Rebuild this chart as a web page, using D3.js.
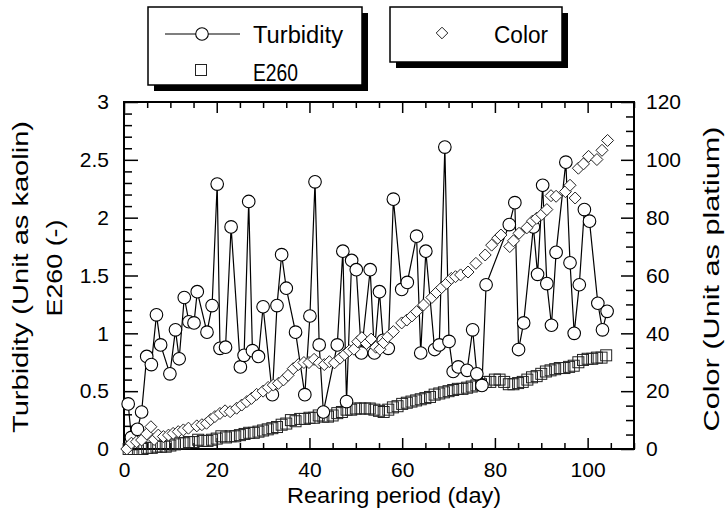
<!DOCTYPE html>
<html><head><meta charset="utf-8">
<script src="https://cdn.jsdelivr.net/npm/d3@7"></script>
<style>
html,body{margin:0;padding:0;background:#fff;}
svg{display:block;font-family:"Liberation Sans",Arial,Helvetica,sans-serif;}
</style></head>
<body>
<svg id="c" width="727" height="514"></svg>
<script>
// ---- data ----
const turbDays = [0.9,1.6,2.9,3.8,4.9,5.9,7.0,7.9,9.9,11.1,11.9,13.0,14.0,15.1,15.8,17.9,19.0,20.1,20.7,21.9,23.1,25.1,25.9,26.9,27.7,29.0,30.0,32.0,33.0,34.0,35.0,37.0,39.0,40.1,41.2,42.1,43.0,46.0,47.2,48.0,49.1,50.1,51.2,53.1,54.0,55.1,55.9,57.0,58.1,59.9,61.1,63.1,64.0,65.1,67.0,68.0,69.2,70.1,71.0,72.1,74.0,75.2,76.1,77.2,78.1,83.1,84.3,85.1,86.2,88.3,89.2,90.3,91.2,92.2,93.2,95.3,96.2,97.1,98.2,99.3,100.4,102.2,103.2,104.2];
const turbVals = [0.39,0.10,0.17,0.32,0.80,0.73,1.16,0.90,0.65,1.03,0.78,1.31,1.10,1.09,1.36,1.01,1.24,2.29,0.87,0.88,1.92,0.71,0.81,2.14,0.85,0.80,1.23,0.47,1.24,1.68,1.39,1.01,0.47,1.15,2.31,0.90,0.32,0.90,1.71,0.41,1.63,1.55,0.83,1.55,0.83,1.36,0.94,0.87,2.16,1.38,1.44,1.84,0.83,1.71,0.86,0.90,2.61,0.93,0.67,0.71,0.68,1.03,0.65,0.55,1.42,1.94,2.13,0.86,1.09,1.92,1.51,2.28,1.43,1.07,1.70,2.48,1.61,1.00,1.42,2.07,1.97,1.26,1.03,1.19];

const colorDays = [0.6,1.6,2.7,3.8,4.9,5.8,6.5,7.4,8.5,9.6,10.6,11.7,12.8,13.9,15.7,16.8,17.8,18.7,19.6,20.7,21.8,22.9,24.3,25.4,26.5,27.5,28.6,30.0,31.1,32.2,33.3,34.4,35.4,36.5,37.6,38.8,39.9,41.0,42.1,43.2,44.3,45.4,46.6,47.6,48.6,49.6,50.4,51.3,52.3,53.3,54.3,55.2,56.0,56.9,58.1,59.9,61.0,62.1,63.1,64.6,66.4,67.4,68.5,69.6,70.6,71.5,72.6,74.2,75.9,77.9,79.3,80.6,81.3,83.2,84.0,85.2,86.9,88.1,89.0,90.1,91.2,92.1,93.2,95.2,96.2,97.3,98.0,99.1,100.2,102.0,103.1,104.3];
const colorVals = [0,2.0,2.5,3.1,5.2,7.7,3.3,4.8,4.3,4.8,5.4,6.0,6.6,7.2,8.0,8.4,8.9,10.2,11.2,12.3,13.2,12.9,14.1,15.2,16.4,17.5,18.9,20.0,21.3,22.1,22.7,23.9,25.5,27.8,29.2,29.9,29.9,31.0,29.8,29.2,30.2,29.8,31.4,32.7,34.0,34.5,37.1,38.5,36.5,38.0,35.2,34.5,36.8,38.8,40.6,43.6,44.6,46.0,47.5,49.8,52.4,54.1,55.8,57.3,59.0,59.6,60.2,61.2,64.2,67.1,70.5,72.9,74.0,70.0,72.0,74.6,76.5,78.8,79.8,81.1,82.8,87.6,87.4,89.0,91.2,86.8,97.1,98.6,101.2,100.1,103.3,106.7];

const e260Vals = [0.00,0.00,0.00,0.00,0.01,0.01,0.02,0.02,0.02,0.03,
  0.04,0.05,0.05,0.06,0.06,0.08,0.07,0.07,0.08,0.09,
  0.11,0.10,0.11,0.11,0.12,0.13,0.14,0.14,0.15,0.16,
  0.17,0.18,0.19,0.21,0.22,0.25,0.24,0.26,0.26,0.27,
  0.27,0.29,0.28,0.28,0.29,0.31,0.32,0.34,0.34,0.35,
  0.35,0.35,0.35,0.34,0.33,0.32,0.34,0.36,0.37,0.39,
  0.40,0.41,0.42,0.43,0.44,0.45,0.47,0.48,0.49,0.50,
  0.51,0.52,0.52,0.53,0.54,0.55,0.56,0.58,0.58,0.60,
  0.60,0.58,0.56,0.56,0.57,0.58,0.60,0.62,0.63,0.65,
  0.67,0.68,0.69,0.70,0.70,0.71,0.72,0.75,0.77,0.78,
  0.78,0.79,0.79,0.81];
const e260Days = e260Vals.map((v,i)=>i+1);

const xTicks = [0,20,40,60,80,100];
const yLeftTicks = [0,0.5,1,1.5,2,2.5,3];
const yRightTicks = [0,20,40,60,80,100,120];
const xTitle = "Rearing period (day)";
const yLeftTitle1 = "Turbidity (Unit as kaolin)";
const yLeftTitle2 = "E260 (-)";
const yRightTitle = "Color (Unit as platium)";

// ---- layout ----
const svg = d3.select("#c");
const L=124, R=634, T=102, B=449;
const x = d3.scaleLinear().domain([0,110]).range([L,R]);
const yL = d3.scaleLinear().domain([0,3]).range([B,T]);
const yR = d3.scaleLinear().domain([0,120]).range([B,T]);
const FS = 21;

function styleAxis(g){
  g.select(".domain").remove();
  g.selectAll("line").attr("stroke","#000").attr("stroke-width",1.5);
  g.selectAll("text").attr("font-size",FS).attr("fill","#000").attr("font-family",'"Liberation Sans",Arial,sans-serif');
}
const minorX = d3.range(0,111,5).filter(v=>v%20!==0);
const minorYL = d3.range(0,31,1).map(v=>v/10).filter(v=>Math.round(v*10)%5!==0);
const minorYR = d3.range(0,121,5).filter(v=>v%20!==0);

// bottom
svg.append("g").attr("transform",`translate(0,${B})`)
  .call(d3.axisBottom(x).tickValues(xTicks).tickSize(-11).tickPadding(13).tickFormat(d3.format("d"))).call(styleAxis);
svg.append("g").attr("transform",`translate(0,${B})`)
  .call(d3.axisBottom(x).tickValues(minorX).tickSize(-6).tickFormat("")).call(styleAxis);
// top
svg.append("g").attr("transform",`translate(0,${T})`)
  .call(d3.axisTop(x).tickValues(xTicks).tickSize(-11).tickFormat("")).call(styleAxis);
svg.append("g").attr("transform",`translate(0,${T})`)
  .call(d3.axisTop(x).tickValues(minorX).tickSize(-6).tickFormat("")).call(styleAxis);
// left
svg.append("g").attr("transform",`translate(${L},0)`)
  .call(d3.axisLeft(yL).tickValues(yLeftTicks).tickSize(-14).tickPadding(15).tickFormat(d=>String(d))).call(styleAxis);
svg.append("g").attr("transform",`translate(${L},0)`)
  .call(d3.axisLeft(yL).tickValues(minorYL).tickSize(-8).tickFormat("")).call(styleAxis);
// right
svg.append("g").attr("transform",`translate(${R},0)`)
  .call(d3.axisRight(yR).tickValues(yRightTicks).tickSize(-13).tickPadding(12).tickFormat(d=>String(d))).call(styleAxis);
svg.append("g").attr("transform",`translate(${R},0)`)
  .call(d3.axisRight(yR).tickValues(minorYR).tickSize(-8).tickFormat("")).call(styleAxis);

// frame
svg.append("rect").attr("x",L).attr("y",T).attr("width",R-L).attr("height",B-T)
  .attr("fill","none").attr("stroke","#000").attr("stroke-width",2);

// ---- E260 squares ----
const sq = 11;
svg.append("g").selectAll("rect").data(e260Days.map((d,i)=>[d,e260Vals[i]])).join("rect")
  .attr("x",d=>x(d[0])-sq/2).attr("y",d=>yL(d[1])-sq/2).attr("width",sq).attr("height",sq)
  .attr("fill","none").attr("stroke","#222").attr("stroke-width",1);

// ---- turbidity line + circles ----
const tData = turbDays.map((d,i)=>[d,turbVals[i]]);
svg.append("path").datum(tData)
  .attr("d",d3.line().x(d=>x(d[0])).y(d=>yL(d[1])))
  .attr("fill","none").attr("stroke","#000").attr("stroke-width",1.2);
svg.append("g").selectAll("circle").data(tData).join("circle")
  .attr("cx",d=>x(d[0])).attr("cy",d=>yL(d[1])).attr("r",6.3)
  .attr("fill","#fff").attr("stroke","#000").attr("stroke-width",1.1);

// ---- color diamonds ----
const dr = 6;
const diamond = r => `M0,${-r}L${r},0L0,${r}L${-r},0Z`;
svg.append("g").selectAll("path").data(colorDays.map((d,i)=>[d,colorVals[i]])).join("path")
  .attr("transform",d=>`translate(${x(d[0])},${yR(d[1])})`)
  .attr("d",diamond(dr))
  .attr("fill","#fff").attr("stroke","#222").attr("stroke-width",1);

// ---- titles ----
svg.append("text").attr("x",394).attr("y",503).attr("text-anchor","middle")
  .attr("font-size",22).attr("textLength",214).attr("lengthAdjust","spacingAndGlyphs").text(xTitle);
svg.append("text").attr("transform","translate(28,277) rotate(-90)").attr("text-anchor","middle")
  .attr("font-size",22).attr("textLength",312).attr("lengthAdjust","spacingAndGlyphs").text(yLeftTitle1);
svg.append("text").attr("transform","translate(62,268) rotate(-90)").attr("text-anchor","middle")
  .attr("font-size",22).attr("textLength",97).attr("lengthAdjust","spacingAndGlyphs").text(yLeftTitle2);
svg.append("text").attr("transform","translate(719,279) rotate(-90)").attr("text-anchor","middle")
  .attr("font-size",22).attr("textLength",305).attr("lengthAdjust","spacingAndGlyphs").text(yRightTitle);

// ---- legends ----
function box(x0,y0,x1,y1){
  svg.append("rect").attr("x",x0+6).attr("y",y0+6).attr("width",x1-x0).attr("height",y1-y0).attr("fill","#000");
  svg.append("rect").attr("x",x0).attr("y",y0).attr("width",x1-x0).attr("height",y1-y0)
    .attr("fill","#fff").attr("stroke","#000").attr("stroke-width",1.5);
}
box(148,7,362,85);
svg.append("line").attr("x1",165).attr("x2",240).attr("y1",34).attr("y2",34).attr("stroke","#000").attr("stroke-width",1.2);
svg.append("circle").attr("cx",202).attr("cy",34).attr("r",6.3).attr("fill","#fff").attr("stroke","#000").attr("stroke-width",1.1);
svg.append("text").attr("x",253).attr("y",43).attr("font-size",23).attr("textLength",90).attr("lengthAdjust","spacingAndGlyphs").text("Turbidity");
svg.append("rect").attr("x",201-sq/2).attr("y",70-sq/2).attr("width",sq).attr("height",sq).attr("fill","none").attr("stroke","#222");
svg.append("text").attr("x",253).attr("y",81).attr("font-size",23).attr("textLength",45).attr("lengthAdjust","spacingAndGlyphs").text("E260");

box(390,7,562,62);
svg.append("path").attr("transform","translate(442,33)").attr("d",diamond(5.8)).attr("fill","#fff").attr("stroke","#222");
svg.append("text").attr("x",494).attr("y",43).attr("font-size",23).attr("textLength",54).attr("lengthAdjust","spacingAndGlyphs").text("Color");
</script>
</body></html>
